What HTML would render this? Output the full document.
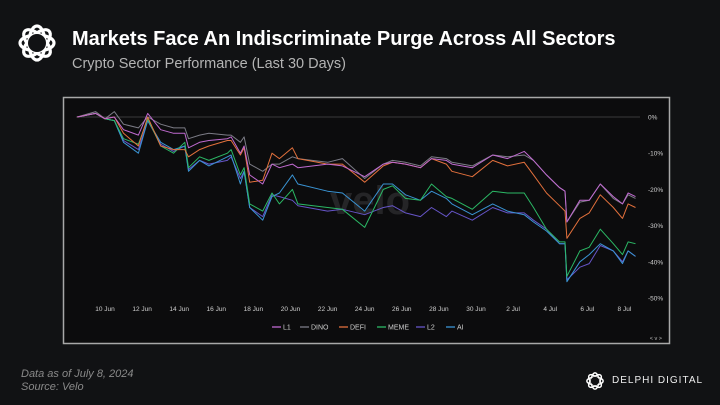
<!DOCTYPE html>
<html><head><meta charset="utf-8"><style>
html,body{margin:0;padding:0;background:#111214;}
body{width:720px;height:405px;overflow:hidden;position:relative;font-family:"Liberation Sans",sans-serif;}
#title{position:absolute;left:72px;top:28px;color:#fff;font-weight:bold;font-size:20px;margin:0;}
#subtitle{position:absolute;left:72px;top:56px;color:#b4b4b4;font-size:14.5px;}
.foot{position:absolute;left:21px;color:#8a8a8a;font-style:italic;font-size:11px;}
#brand{position:absolute;left:612px;top:375px;color:#eee;font-size:10px;letter-spacing:1px;white-space:nowrap;}
</style></head><body>
<svg style="position:absolute;left:14px;top:20px" width="46" height="46" viewBox="0 0 46 46">
<g fill="none" stroke="#fff" stroke-width="3.2">
<ellipse cx="23" cy="23" rx="8" ry="17"/><ellipse cx="23" cy="23" rx="17" ry="8"/>
<ellipse cx="23" cy="23" rx="8" ry="17" transform="rotate(45 23 23)"/><ellipse cx="23" cy="23" rx="8" ry="17" transform="rotate(-45 23 23)"/>
</g><circle cx="23" cy="23" r="9" fill="#111214"/></svg>
<h1 id="title">Markets Face An Indiscriminate Purge Across All Sectors</h1>
<div id="subtitle">Crypto Sector Performance (Last 30 Days)</div>
<svg id="chart" style="position:absolute;left:0;top:0" width="720" height="405"></svg>
<div class="foot" style="top:368px">Data as of July 8, 2024</div>
<div class="foot" style="top:381px">Source: Velo</div>
<svg style="position:absolute;left:584px;top:370px" width="22" height="22" viewBox="0 0 46 46">
<g fill="none" stroke="#fff" stroke-width="3"><ellipse cx="23" cy="23" rx="8" ry="17"/><ellipse cx="23" cy="23" rx="17" ry="8"/><ellipse cx="23" cy="23" rx="8" ry="17" transform="rotate(45 23 23)"/><ellipse cx="23" cy="23" rx="8" ry="17" transform="rotate(-45 23 23)"/></g><circle cx="23" cy="23" r="9" fill="#111214"/></svg>
<div id="brand">DELPHI DIGITAL</div>
<script>
const days=[8.5,9.5,10,10.5,11,11.8,12.3,13,13.7,14.3,14.5,15.1,15.6,16.6,16.8,17.3,17.5,17.8,18.5,19,19.4,20.1,20.4,22,22.8,24,25,25.5,26.2,27,27.6,28.4,28.7,29.8,30.9,31.7,32.6,33.1,33.8,34.5,34.8,34.9,35.6,36.1,36.7,37.4,37.9,38.2,38.6];
const L1=[0,1,-0.5,0,-3.5,-5,1,-3.5,-4.5,-4.5,-8.5,-7,-6.5,-6,-5.5,-10,-8,-16,-18.5,-13,-14,-13,-14,-13,-13.5,-16.5,-13,-12.5,-13,-14,-11.5,-12,-13,-14,-10.5,-11.5,-9.5,-12,-16,-19.5,-20.5,-29,-23,-23,-18.5,-22,-24,-21,-22];
const DINO=[0,1.5,-0.5,1.5,-2,-3,0,-2,-3,-3,-6,-5,-4.5,-5,-5,-7,-5.5,-13,-15,-13,-13,-11,-11.5,-12.5,-11.5,-17,-13,-12,-12.5,-13.5,-11,-11.5,-12.5,-13.5,-10.5,-11,-10.5,-12,-16,-19.5,-20.5,-29,-23.5,-23,-18.5,-22.5,-24,-21.5,-22.5];
const DEFI=[0,1,-0.5,0,-4.5,-8,0,-8,-9,-9,-11,-9,-8,-6.5,-6.5,-10.5,-8.5,-18,-17.5,-10,-11.5,-8.5,-11.5,-13,-13,-18,-13.5,-12.5,-13,-14,-11.5,-13,-15,-16.5,-12,-13.5,-12.5,-16,-21,-24.5,-26,-33.5,-28,-26.5,-21.5,-25,-28,-24,-25];
const MEME=[0,1,-0.5,-1,-6,-7.5,-0.5,-8,-10,-7,-14,-11,-12,-10,-9,-16,-14,-24,-26,-21,-24,-20,-24,-25,-25.5,-30.5,-20,-19,-22.5,-23,-18.5,-22,-22.5,-25.5,-20.5,-21,-21,-25,-31,-34.5,-34.5,-44,-37,-36,-31,-35,-38,-34.5,-35];
const L2=[0,1,-0.5,-1,-6.5,-9,-1,-7.5,-9.5,-8,-14.5,-12,-13,-12,-11,-17,-15,-25,-27.5,-21.5,-22,-23,-24.5,-26,-25.5,-27,-25,-24.5,-26.5,-27.5,-25,-27.5,-26,-28.5,-25,-26.5,-26.5,-28.5,-31,-35,-35,-45,-41.5,-40.5,-35.5,-37,-40,-37,-38.5];
const AI=[0,1,-0.5,-1,-7,-10,-1,-7,-9,-8,-15,-12,-13.5,-11,-10.5,-18.5,-15,-25,-28.5,-22,-21,-16,-18.5,-20.5,-21,-26,-18.5,-18.5,-21.5,-23,-20.5,-22.5,-24,-27,-24,-26,-27,-29,-31.5,-35,-35,-45.5,-40,-38,-35,-37,-40.5,-37,-38.5];
const seriesNames=["L1","DINO","DEFI","MEME","L2","AI"];
const seriesColors=["#c06ad0","#7c7c86","#e2703c","#2bb865","#6655c8","#3a94d4"];
const xTickDays=[10,12,14,16,18,20,22,24,26,28,30,32,34,36,38];
const xTickLabels=["10 Jun","12 Jun","14 Jun","16 Jun","18 Jun","20 Jun","22 Jun","24 Jun","26 Jun","28 Jun","30 Jun","2 Jul","4 Jul","6 Jul","8 Jul"];
const yTicks=[0,-10,-20,-30,-40,-50];

const NS="http://www.w3.org/2000/svg";
const svg=document.getElementById('chart');
const X=d=>105+(d-10)*18.55;
const Y=v=>117-v*3.62;
function mk(tag,attrs,parent){const e=document.createElementNS(NS,tag);for(const k in attrs)e.setAttribute(k,attrs[k]);(parent||svg).appendChild(e);return e;}
const frame=mk('rect',{x:63.5,y:97.5,width:606,height:246,fill:'#0c0c0d',stroke:'#a8a8a8','stroke-width':1.5});


const wm=mk('text',{x:370,y:214,fill:'#252527','font-size':40,'font-weight':'bold','text-anchor':'middle','font-family':'Liberation Sans, sans-serif'});
wm.textContent='velo';


const zl=mk('line',{x1:76,x2:640,y1:Y(0),y2:Y(0),stroke:'#3a3a3a','stroke-width':1});


yTicks.forEach(v=>{const t=mk('text',{x:648,y:Y(v)+2.5,fill:'#cfcfcf','font-size':6.5,'font-family':'Liberation Sans, sans-serif'});t.textContent=v+'%';

});
xTickDays.forEach((d,i)=>{const t=mk('text',{x:X(d),y:311,fill:'#cfcfcf','font-size':6.5,'text-anchor':'middle','font-family':'Liberation Sans, sans-serif'});t.textContent=xTickLabels[i];

});
const data=[L1,DINO,DEFI,MEME,L2,AI];
const order=[4,5,3,1,2,0];
order.forEach(i=>{const p=mk('polyline',{points:data[i].map((v,j)=>X(days[j]).toFixed(1)+','+Y(v).toFixed(1)).join(' '),fill:'none',stroke:seriesColors[i],'stroke-width':1,'stroke-linejoin':'round'});

});
const legX=[272,300,339,377,416,446];
seriesNames.forEach((n,i)=>{const g=mk('g',{});


mk('line',{x1:legX[i],x2:legX[i]+9,y1:327,y2:327,stroke:seriesColors[i],'stroke-width':1.3},g);
const t=mk('text',{x:legX[i]+11,y:329.5,fill:'#cfcfcf','font-size':7,'font-family':'Liberation Sans, sans-serif'},g);t.textContent=n;});
const nav=mk('text',{x:662,y:340,fill:'#bbb','font-size':5.5,'text-anchor':'end','font-family':'Liberation Sans, sans-serif'});nav.textContent='< v >';


</script>
</body></html>
